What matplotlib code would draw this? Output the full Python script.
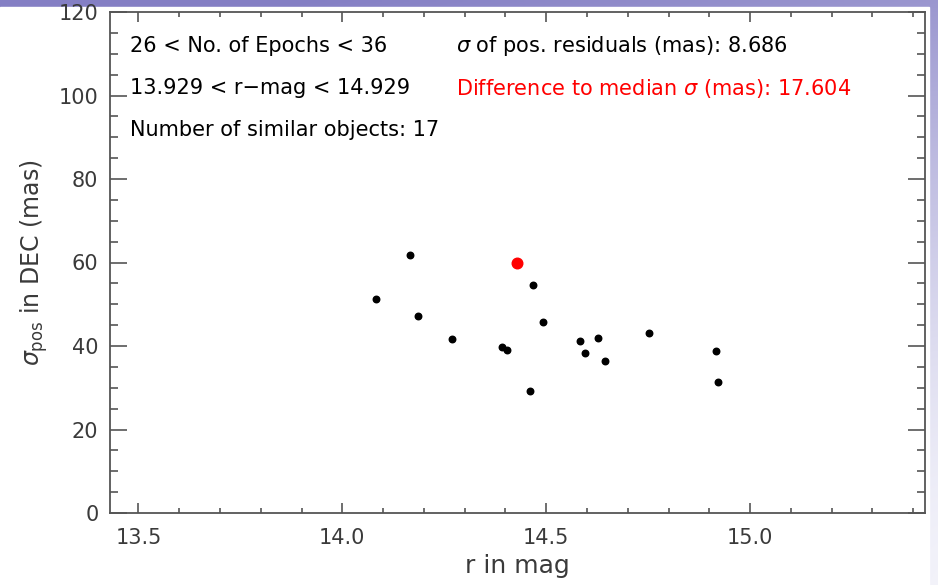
import numpy as np
import matplotlib
matplotlib.use('Agg')
import matplotlib.pyplot as plt
from matplotlib.patches import Rectangle
from matplotlib.ticker import MultipleLocator

# similar objects: r magnitude vs sigma_pos in DEC (mas)
r_mag = [14.083, 14.166, 14.186, 14.268, 14.391, 14.404, 14.460, 14.467,
         14.493, 14.583, 14.594, 14.626, 14.644, 14.752, 14.917, 14.922]
sigma_dec = [51.2, 61.8, 47.2, 41.7, 39.7, 39.1, 29.3, 54.5,
             45.7, 41.3, 38.3, 42.0, 36.3, 43.2, 38.7, 31.3]
# the object itself
obj_r = [14.429]
obj_sigma = [59.9]

info_left = ['26 < No. of Epochs < 36',
             '13.929 < r\u2212mag < 14.929',
             'Number of similar objects: 17']
info_right = [r'$\sigma$ of pos. residuals (mas): 8.686',
              r'Difference to median $\sigma$ (mas): 17.604']

W, H = 938, 585
fig = plt.figure(figsize=(W / 100, H / 100), dpi=100)

# slide background (purple gradient) behind a white panel
bg = fig.add_axes([0, 0, 1, 1], zorder=-10)
yy, xx = np.mgrid[0:1:200j, 0:1:300j]
t = np.clip(0.8 * yy ** 1.6 + 0.3 * (1 - xx), 0, 1)
c0 = np.array([0.95, 0.95, 0.98])
c1 = np.array([0.52, 0.50, 0.77])
img = c0 + (c1 - c0) * t[..., None]
bg.imshow(img, extent=[0, 1, 0, 1], aspect='auto', origin='lower')
bg.add_patch(Rectangle((0, 0), 929 / W, (H - 7) / H, color='white'))
bg.set_xlim(0, 1)
bg.set_ylim(0, 1)
bg.axis('off')

ax = fig.add_axes([109.5 / W, 1 - 513 / H, (925 - 109.5) / W, (513 - 12) / H])
ax.set_facecolor('none')

ax.scatter(r_mag, sigma_dec, s=22, color='black', zorder=3)
ax.scatter(obj_r, obj_sigma, s=58, color='#ff0000', zorder=4)

ax.set_xlim(13.429, 15.429)
ax.set_ylim(0, 120)
ax.xaxis.set_major_locator(MultipleLocator(0.5))
ax.xaxis.set_minor_locator(MultipleLocator(0.1))
ax.yaxis.set_major_locator(MultipleLocator(20))
ax.yaxis.set_minor_locator(MultipleLocator(5))

gray = '#555555'
for s in ax.spines.values():
    s.set_color(gray)
    s.set_linewidth(1.3)
ax.tick_params(axis='both', which='both', direction='in', top=True, right=True,
               color=gray, width=1.2, labelcolor='#3a3a3a', labelsize=15)
ax.tick_params(axis='y', which='major', length=12, pad=8)
ax.tick_params(axis='y', which='minor', length=6)
ax.tick_params(axis='x', which='major', length=7, pad=11)
ax.tick_params(axis='x', which='minor', length=3.5)

ax.set_xlabel('r in mag', fontsize=18, color='#3a3a3a', labelpad=4)
ax.set_ylabel(r'$\sigma_{\rm pos}$ in DEC (mas)', fontsize=17,
              color='#3a3a3a', labelpad=6)

ty = [46, 88, 130]
fs = 15
for i, txt in enumerate(info_left):
    ax.text(130 / W, 1 - ty[i] / H, txt, transform=fig.transFigure,
            fontsize=fs, color='black', va='center', ha='left')
ax.text(456 / W, 1 - ty[0] / H, info_right[0], transform=fig.transFigure,
        fontsize=fs, color='black', va='center', ha='left')
ax.text(456 / W, 1 - ty[1] / H, info_right[1], transform=fig.transFigure,
        fontsize=fs, color='#ff0000', va='center', ha='left')

fig.savefig('out.png', dpi=100)
